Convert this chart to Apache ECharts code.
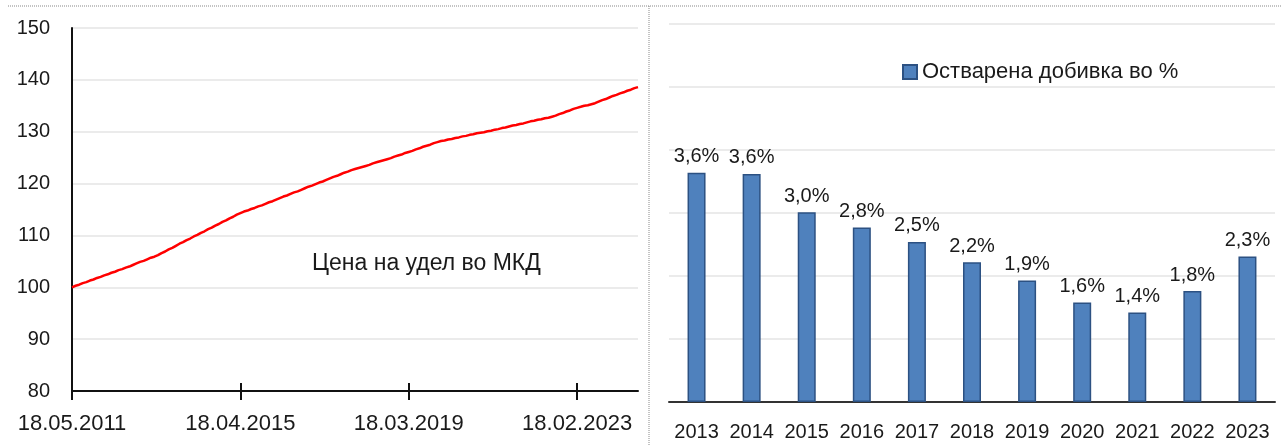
<!DOCTYPE html>
<html>
<head>
<meta charset="utf-8">
<script src="https://cdn.jsdelivr.net/npm/echarts@6/dist/echarts.min.js"></script>
<style>
    html, body { margin: 0; padding: 0; background: #fff; }
    #chart { width: 1282px; height: 446px; }
</style>
</head>
<body>
<div id="chart"></div>
<script>
// цена на удел - месечни вредности (од 05.2011)
var priceValues = [
    100.0, 100.3, 100.5, 100.8, 101.0, 101.3, 101.5, 101.8, 102.0, 102.3,
    102.5, 102.8, 103.0, 103.3, 103.5, 103.8, 104.0, 104.3, 104.6, 104.9,
    105.1, 105.4, 105.7, 105.9, 106.2, 106.6, 106.9, 107.3, 107.6, 108.0,
    108.4, 108.7, 109.1, 109.4, 109.8, 110.1, 110.5, 110.8, 111.2, 111.5,
    111.9, 112.2, 112.6, 112.9, 113.3, 113.6, 114.0, 114.3, 114.6, 114.8,
    115.1, 115.3, 115.6, 115.8, 116.1, 116.4, 116.6, 116.9, 117.2, 117.5,
    117.7, 118.0, 118.3, 118.5, 118.8, 119.1, 119.4, 119.6, 119.9, 120.2,
    120.4, 120.7, 121.0, 121.3, 121.5, 121.8, 122.1, 122.3, 122.6, 122.8,
    123.0, 123.2, 123.4, 123.6, 123.9, 124.1, 124.3, 124.5, 124.7, 124.9,
    125.2, 125.4, 125.6, 125.9, 126.1, 126.3, 126.6, 126.8, 127.1, 127.3,
    127.5, 127.8, 128.0, 128.2, 128.3, 128.5, 128.6, 128.8, 128.9, 129.1,
    129.2, 129.4, 129.5, 129.7, 129.8, 129.9, 130.1, 130.2, 130.4, 130.5,
    130.7, 130.8, 131.0, 131.2, 131.3, 131.5, 131.6, 131.8, 132.0, 132.1,
    132.3, 132.4, 132.6, 132.7, 132.9, 133.1, 133.4, 133.6, 133.9, 134.1,
    134.4, 134.6, 134.8, 135.0, 135.1, 135.3, 135.5, 135.8, 136.1, 136.3,
    136.6, 136.9, 137.1, 137.4, 137.6, 137.9, 138.1, 138.4, 138.6
];
var priceDates = [];
for (var i = 0; i < priceValues.length; i++) {
    var m = 4 + i; // мај 2011 = индекс 4
    var yy = 2011 + Math.floor(m / 12);
    var mm = (m % 12) + 1;
    priceDates.push('18.' + (mm < 10 ? '0' + mm : mm) + '.' + yy);
}
var priceTicks = [80, 90, 100, 110, 120, 130, 140, 150];

var years = ['2013', '2014', '2015', '2016', '2017', '2018', '2019', '2020', '2021', '2022', '2023'];
var returns = [3.64, 3.62, 3.01, 2.77, 2.54, 2.22, 1.93, 1.58, 1.42, 1.76, 2.31];

var txt = '#1a1a1a';
var font = 'Liberation Sans, Arial, sans-serif';

var chart = echarts.init(document.getElementById('chart'));
var option = {
    animation: false,
    textStyle: { fontFamily: font, color: txt },
    grid: [
        { left: 72, right: 644, top: 28, bottom: 55 },
        { left: 669, right: 7, top: 24, bottom: 44 }
    ],
    legend: {
        data: ['Остварена добивка во %'],
        left: 897,
        top: 56,
        icon: 'rect',
        itemWidth: 14,
        itemHeight: 14,
        itemGap: 6,
        textStyle: { fontSize: 22, color: txt, fontFamily: font }
    },
    xAxis: [{
        gridIndex: 0,
        type: 'category',
        position: 'bottom',
        data: priceDates,
        boundaryGap: false,
        axisLine: { lineStyle: { color: '#111', width: 2 } },
        axisTick: { interval: 46, length: 9, lineStyle: { color: '#111', width: 2 } },
        axisLabel: { interval: 46, fontSize: 22, color: txt, margin: 22 },
        splitLine: { show: false }
    }, {
        gridIndex: 0,
        type: 'category',
        position: 'bottom',
        data: priceDates,
        boundaryGap: false,
        axisLine: { show: false },
        axisTick: { inside: true, interval: 46, length: 8, lineStyle: { color: '#111', width: 2 } },
        axisLabel: { show: false }
    }, {
        gridIndex: 1,
        type: 'category',
        position: 'bottom',
        data: years,
        axisLine: { lineStyle: { color: '#333', width: 2 } },
        axisTick: { length: 6, lineStyle: { color: '#333', width: 2 } },
        axisLabel: { interval: 0, fontSize: 20, color: txt, margin: 20 }
    }, {
        gridIndex: 1,
        type: 'category',
        position: 'bottom',
        data: years,
        axisLine: { show: false },
        axisTick: { inside: true, length: 7, lineStyle: { color: '#333', width: 2 } },
        axisLabel: { show: false }
    }],
    yAxis: [{
        gridIndex: 0,
        type: 'value',
        min: priceTicks[0],
        max: priceTicks[priceTicks.length - 1],
        interval: 10,
        axisLine: { show: true, lineStyle: { color: '#111', width: 2 } },
        axisTick: { show: false },
        axisLabel: { fontSize: 20, color: txt, margin: 22 },
        splitLine: { lineStyle: { color: '#e4e4e4', width: 1.5 } }
    }, {
        gridIndex: 1,
        type: 'value',
        min: 0,
        max: 6,
        interval: 1,
        axisLine: { show: false },
        axisTick: { show: false },
        axisLabel: { show: false },
        splitLine: { lineStyle: { color: '#e4e4e4', width: 1.5 } }
    }],
    series: [{
        name: 'Цена на удел во МКД',
        type: 'line',
        xAxisIndex: 0,
        yAxisIndex: 0,
        data: priceValues,
        showSymbol: false,
        lineStyle: { color: '#ff0000', width: 2.5 },
        itemStyle: { color: '#ff0000' }
    }, {
        name: 'Остварена добивка во %',
        type: 'bar',
        xAxisIndex: 2,
        yAxisIndex: 1,
        data: returns,
        barWidth: 18,
        itemStyle: { color: '#4f81bd', borderColor: '#2c5182', borderWidth: 1.5 },
        label: {
            show: true,
            position: 'top',
            distance: 6,
            fontSize: 20,
            color: txt,
            fontFamily: font,
            formatter: function (p) {
                return p.value.toFixed(1).replace('.', ',') + '%';
            }
        }
    }],
    graphic: [{
        type: 'text',
        left: 312,
        top: 252,
        style: { text: 'Цена на удел во МКД', font: '23px ' + font, fill: txt }
    }, {
        type: 'line',
        shape: { x1: 8, y1: 6, x2: 1282, y2: 6 },
        style: { stroke: '#888', lineWidth: 1, lineDash: [1, 1] }
    }, {
        type: 'line',
        shape: { x1: 649, y1: 6, x2: 649, y2: 446 },
        style: { stroke: '#888', lineWidth: 1, lineDash: [1, 1] }
    }]
};
chart.setOption(option);
</script>
</body>
</html>
